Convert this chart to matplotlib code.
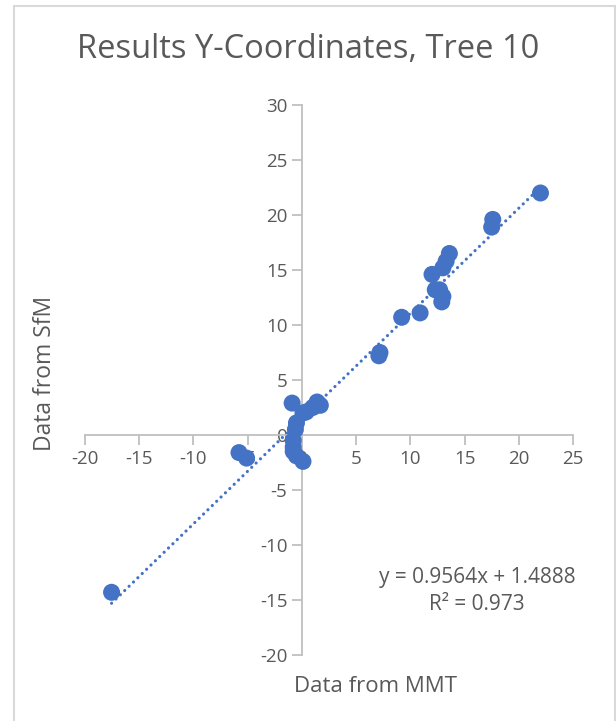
import numpy as np
import matplotlib
matplotlib.use('Agg')
import matplotlib.pyplot as plt
from matplotlib.patches import Rectangle

# values
mmt = [-17.55, 22.0, 17.6, 17.5, 13.6, 13.3, 13.0, 12.0, 12.7, 12.3, 13.0, 12.9,
       10.9, 9.2, 7.2, 7.1, -0.9, 1.4, 1.7, 1.0, 0.4, 0.1, -0.5, -0.6, -0.8,
       -0.8, -0.8, -0.5, 0.1, -5.8, -5.1]
sfm = [-14.3, 22.0, 19.6, 18.9, 16.5, 15.8, 15.2, 14.6, 13.2, 13.2, 12.6, 12.1,
       11.1, 10.7, 7.5, 7.2, 2.9, 3.0, 2.7, 2.5, 2.1, 2.0, 1.1, 0.5, -0.5,
       -1.1, -1.5, -1.9, -2.4, -1.6, -2.1]
slope = 0.9564
intercept = 1.4888
r2 = 0.973

grey = '#595959'
axcol = '#BFBFBF'
blue = '#4472C4'
font = 'Open Sans'
plt.rcParams['axes.unicode_minus'] = False

fig = plt.figure(figsize=(6.16, 7.21), dpi=100)
fig.patches.append(Rectangle((14 / 616, -0.01), 601 / 616, 1 - 6 / 721 + 0.01,
                             transform=fig.transFigure, fill=False,
                             edgecolor='#D9D9D9', linewidth=1.5))
ax = fig.add_axes([85 / 616, 1 - 655 / 721, 488 / 616, 550 / 721])

xs = np.array([min(mmt), max(mmt)])
ax.plot(xs, slope * xs + intercept, linestyle=(0, (0.01, 1.9)), color=blue,
        linewidth=2.3, dash_capstyle='round', zorder=2)
ax.scatter(mmt, sfm, s=150, color=blue, edgecolors='none', zorder=3)

ax.set_xlim(-20, 25)
ax.set_ylim(-20, 30)
ax.set_xticks(np.arange(-20, 26, 5))
ax.set_yticks(np.arange(-20, 31, 5))

for s in ['top', 'right']:
    ax.spines[s].set_visible(False)
for s in ['left', 'bottom']:
    ax.spines[s].set_position(('data', 0))
    ax.spines[s].set_color(axcol)
    ax.spines[s].set_linewidth(1.3)
ax.tick_params(axis='both', direction='out', length=7, width=1.3, color=axcol,
               labelcolor=grey, labelsize=13.5)
for lab in ax.get_xticklabels() + ax.get_yticklabels():
    lab.set_fontfamily(font)

fig.text(0.5, 1 - 50 / 721, 'Results Y-Coordinates, Tree 10', ha='center', va='center',
         fontsize=23.5, color=grey, family=font)
fig.text(376 / 616, 1 - 687 / 721, 'Data from MMT', ha='center', va='center',
         fontsize=16, color=grey, family=font)
fig.text(45 / 616, 1 - 373 / 721, 'Data from SfM', ha='center', va='center',
         rotation=90, fontsize=16.5, color=grey, family=font)
fig.text(477 / 616, 1 - 578 / 721, 'y = %.4fx + %.4f' % (slope, intercept),
         ha='center', va='center', fontsize=15, color=grey, family=font)
fig.text(477 / 616, 1 - 605 / 721, 'R² = %.3f' % r2,
         ha='center', va='center', fontsize=15, color=grey, family=font)

fig.savefig('out.png', dpi=100)
